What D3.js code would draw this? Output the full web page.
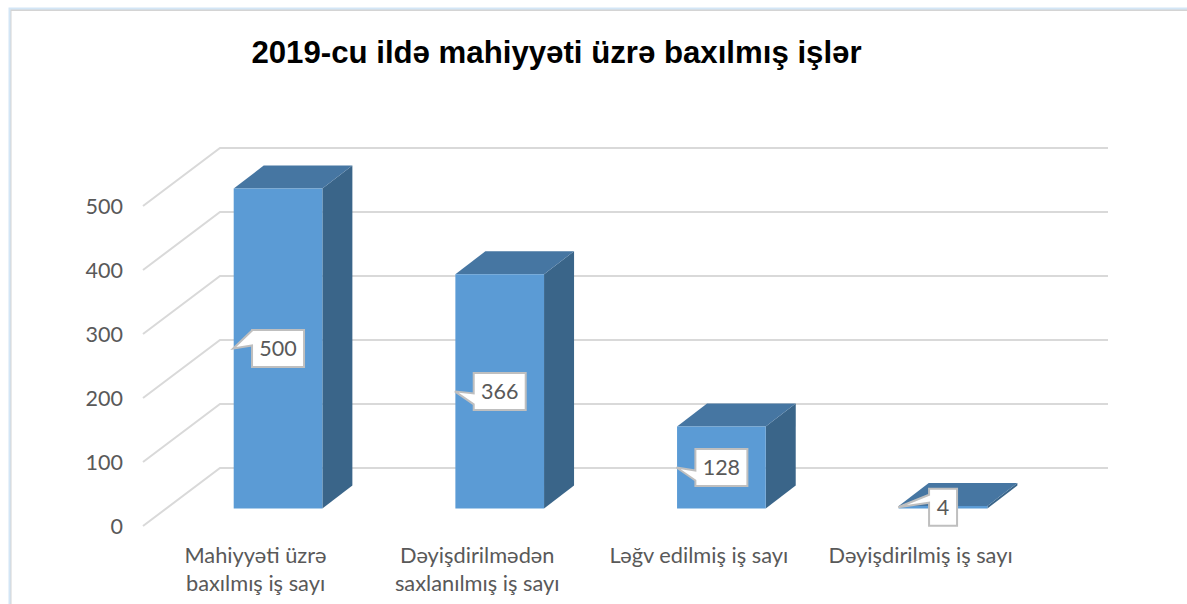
<!DOCTYPE html>
<html><head><meta charset="utf-8">
<script src="https://cdn.jsdelivr.net/npm/d3@7"></script>
<style>html,body{margin:0;padding:0;background:#fff;overflow:hidden}svg{display:block}</style>
</head><body><svg id="c" width="1187" height="604"></svg>
<script>
const titleText = "2019-cu ildə mahiyyəti üzrə baxılmış işlər";
const categories = ["Mahiyyəti üzrə|baxılmış iş sayı","Dəyişdirilmədən|saxlanılmış iş sayı","Ləğv edilmiş iş sayı","Dəyişdirilmiş iş sayı"];
const values = [500,366,128,4];
const tickValues = [0,100,200,300,400,500];

const W=1187,H=604, font="Lato, Carlito, 'Noto Sans', sans-serif";
const svg=d3.select("#c");
// frame
svg.append("rect").attr("x",10.5).attr("y",10).attr("width",W+20).attr("height",H+20).attr("fill","none").attr("stroke","#d4d4d4").attr("stroke-width",2);
svg.append("rect").attr("x",9.5).attr("y",8.5).attr("width",W+20).attr("height",H+20).attr("fill","none").attr("stroke","#d3e6f6").attr("stroke-width",2);

svg.append("text").attr("x",556.5).attr("y",63).attr("text-anchor","middle")
  .attr("font-family","'Liberation Sans',Arial,sans-serif").attr("font-weight",700).attr("font-size",31.2).attr("fill","#000").text(titleText);

const x=d3.scaleBand().domain(d3.range(categories.length)).range([167.2,1053.9]).paddingInner(.6).paddingOuter(.3);
const dom=[0,500];
const yFront=d3.scaleLinear().domain(dom).range([526,206]);
const yBar=d3.scaleLinear().domain(dom).range([508.5,188.5]);
const yBack=d3.scaleLinear().domain(dom).range([468,148]);
const wallX0=143,wallX1=220,wallX2=1108,depthX=30,depthY=23;

// gridlines
const grid=svg.append("g").attr("fill","none").attr("stroke","#d9d9d9").attr("stroke-width",2);
tickValues.forEach(t=>{
  grid.append("polyline").attr("points",[[wallX0,yFront(t)],[wallX1,yBack(t)],[wallX2,yBack(t)]].map(p=>p.join(",")).join(" "));
});

// y axis labels
const axis=d3.axisLeft(yFront).tickValues(tickValues).tickSize(0).tickPadding(20);
const ga=svg.append("g").attr("transform",`translate(${wallX0},1)`).call(axis);
ga.select(".domain").remove();
ga.selectAll("text").attr("font-family",font).attr("font-size",21.5).attr("fill","#595959");

// bars
const poly=(g,pts,fill)=>g.append("polygon").attr("points",pts.map(p=>p.join(",")).join(" ")).attr("fill",fill);
const bars=svg.append("g");
values.forEach((v,i)=>{
  const l=x(i),r=l+x.bandwidth(),t=yBar(v),b=yBar(0);
  poly(bars,[[r,t],[r+depthX,t-depthY],[r+depthX,b-depthY],[r,b]],"#3a6589");
  poly(bars,[[l,t],[l+depthX,t-depthY],[r+depthX,t-depthY],[r,t]],"#4676a2");
  poly(bars,[[l,t],[r,t],[r,b],[l,b]],"#5b9bd5");
});

// callouts: box width and pointer base offsets relative to the box centre line
const boxW=[52,52,52,28], boxH=37;
const baseOff=[[-18,-3],[2,13],[3,13],[-12.5,-4.5]];
const callouts=svg.append("g");
values.forEach((v,i)=>{
  const cx=x(i)+x.bandwidth()/2, my=(yBar(v)+yBar(0))/2, tip=x(i)-0.5;
  const L=cx-boxW[i]/2,R=cx+boxW[i]/2,T=my-boxH/2,B=my+boxH/2;
  callouts.append("path")
   .attr("d",`M${L},${T}L${R},${T}L${R},${B}L${L},${B}L${L},${my+baseOff[i][1]}L${tip},${my}L${L},${my+baseOff[i][0]}Z`)
   .attr("fill","#fff").attr("stroke","#bfbfbf").attr("stroke-width",2);
  callouts.append("text").attr("x",cx).attr("y",my+7.5).attr("text-anchor","middle")
   .attr("font-family",font).attr("font-size",21.5).attr("fill","#595959").text(v);
});

// category labels
const cats=svg.append("g").attr("font-family",font).attr("font-size",21.8).attr("fill","#595959").attr("text-anchor","middle");
categories.forEach((c,i)=>{
  c.split("|").forEach((s,j)=>cats.append("text").attr("x",x(i)+x.bandwidth()/2-22.5).attr("y",563+j*28).text(s));
});
</script></body></html>
